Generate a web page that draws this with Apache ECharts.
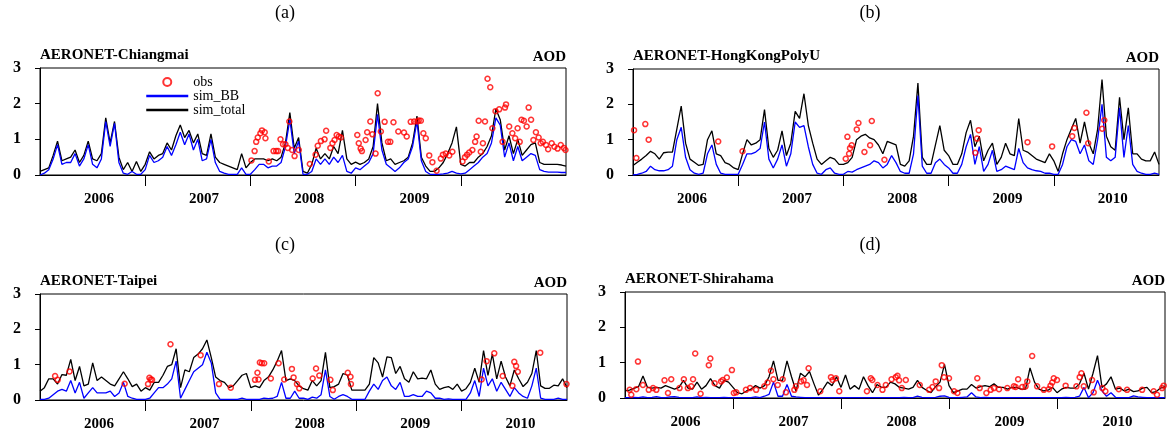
<!DOCTYPE html>
<html>
<head>
<meta charset="utf-8">
<script src="https://cdn.jsdelivr.net/npm/echarts@6/dist/echarts.min.js"></script>
<style>
  html, body { margin: 0; padding: 0; background: #fff; }
  #main { width: 1170px; height: 436px; }
</style>
</head>
<body>
<div id="main"></div>
<script>
// model output every half month, 2006-01 .. 2011-01 (121 values each)
var START_YEAR = 2006;
var STEPS_PER_YEAR = 24;

var yearLabels = [2006, 2007, 2008, 2009, 2010];
var yearTicks = [2007, 2008, 2009, 2010];

// (a) Chiangmai
var chiangmaiTotal = [
  0.1, 0.15, 0.2, 0.55, 0.95, 0.4, 0.45, 0.5, 0.7, 0.35, 0.55, 0.95, 0.45, 0.4, 0.6, 1.6, 0.9, 1.5, 0.5, 0.15, 0.35, 0.1, 0.38, 0.1,
  0.3, 0.65, 0.45, 0.55, 0.6, 0.9, 0.7, 1.1, 1.4, 1.05, 1.25, 0.9, 1.15, 0.6, 0.55, 1.15, 0.5, 0.35, 0.3, 0.25, 0.2, 0.15, 0.6, 0.2,
  0.35, 0.45, 0.45, 0.45, 0.4, 0.45, 0.4, 0.5, 0.9, 1.75, 0.75, 1.05, 0.1, 0.05, 0.3, 0.75, 0.45, 0.6, 0.45, 0.8, 0.6, 1.25, 0.45, 0.3,
  0.36, 0.3, 0.35, 0.45, 0.8, 2.0, 0.9, 0.4, 0.45, 0.3, 0.35, 0.4, 0.5, 0.9, 1.65, 0.5, 0.25, 0.1, 0.1, 0.2, 0.35, 0.6, 0.9, 1.35,
  0.3, 0.25, 0.35, 0.35, 0.5, 0.6, 0.8, 1.1, 1.85, 1.55, 0.7, 1.1, 0.6, 1.0, 0.55, 0.7, 0.85, 0.9, 0.35, 0.3, 0.3, 0.3, 0.3, 0.28, 0.25
];
var chiangmaiBB = [
  0.0, 0.05, 0.15, 0.45, 0.85, 0.3, 0.35, 0.35, 0.6, 0.25, 0.45, 0.85, 0.3, 0.2, 0.45, 1.5, 0.8, 1.45, 0.35, 0.05, 0.02, 0.1, 0.02, 0.02,
  0.15, 0.55, 0.35, 0.4, 0.5, 0.8, 0.55, 0.85, 1.2, 0.85, 1.15, 0.7, 1.0, 0.4, 0.45, 1.0, 0.35, 0.1, 0.05, 0.02, 0.02, 0.02, 0.2, 0.02,
  0.02, 0.15, 0.3, 0.3, 0.2, 0.25, 0.25, 0.35, 0.8, 1.55, 0.6, 0.95, 0.02, 0.02, 0.1, 0.45, 0.3, 0.45, 0.3, 0.5, 0.35, 0.55, 0.1, 0.05,
  0.2, 0.15, 0.25, 0.35, 0.6, 1.7, 0.7, 0.3, 0.2, 0.1, 0.2, 0.35, 0.45, 0.8, 1.5, 0.4, 0.1, 0.02, 0.02, 0.02, 0.03, 0.05, 0.1, 0.05,
  0.03, 0.05, 0.15, 0.25, 0.35, 0.5, 0.6, 0.9, 1.6, 1.4, 0.5, 0.9, 0.4, 0.8, 0.4, 0.5, 0.6, 0.55, 0.15, 0.1, 0.08, 0.08, 0.08, 0.07, 0.07
];
var chiangmaiObs = [
  [2008.01, 0.41], [2008.04, 0.67], [2008.055, 0.93], [2008.07, 1.05], [2008.095, 1.17], [2008.11, 1.25], [2008.136, 1.2], [2008.143, 1.03],
  [2008.175, 0.38], [2008.22, 0.67], [2008.245, 0.67], [2008.263, 0.67], [2008.286, 1.0], [2008.31, 0.86], [2008.333, 0.86], [2008.355, 0.76],
  [2008.37, 1.5], [2008.397, 0.7], [2008.42, 0.53], [2008.46, 0.7], [2008.565, 0.31], [2008.62, 0.57], [2008.64, 0.82], [2008.67, 0.95],
  [2008.705, 1.0], [2008.72, 1.24], [2008.76, 0.76], [2008.78, 0.89], [2008.8, 0.98], [2008.82, 1.12], [2008.84, 1.08], [2008.86, 1.05],
  [2009.016, 1.12], [2009.03, 0.89], [2009.048, 0.74], [2009.06, 0.67], [2009.095, 0.98], [2009.11, 1.2], [2009.14, 1.5], [2009.16, 1.14],
  [2009.19, 0.6], [2009.21, 2.29], [2009.24, 1.22], [2009.276, 1.49], [2009.308, 0.93], [2009.33, 0.93], [2009.36, 1.48], [2009.406, 1.22],
  [2009.46, 1.19], [2009.486, 1.08], [2009.524, 1.49], [2009.556, 1.5], [2009.587, 1.5], [2009.6, 1.53], [2009.62, 1.52], [2009.644, 1.17],
  [2009.667, 1.03], [2009.7, 0.55], [2009.73, 0.36], [2009.77, 0.12], [2009.81, 0.46], [2009.83, 0.57], [2009.857, 0.6], [2009.89, 0.55],
  [2009.92, 0.65], [2010.016, 0.38], [2010.04, 0.5], [2010.06, 0.57], [2010.08, 0.63], [2010.11, 0.7], [2010.136, 0.93], [2010.15, 1.08],
  [2010.17, 1.52], [2010.19, 0.65], [2010.21, 0.89], [2010.23, 1.5], [2010.254, 2.7], [2010.28, 2.46], [2010.3, 1.31], [2010.33, 1.79],
  [2010.365, 1.84], [2010.397, 0.93], [2010.42, 1.89], [2010.43, 1.98], [2010.46, 1.36], [2010.49, 1.17], [2010.517, 1.03], [2010.54, 1.31],
  [2010.56, 0.93], [2010.577, 1.55], [2010.6, 1.52], [2010.626, 1.36], [2010.645, 1.89], [2010.668, 1.55], [2010.69, 0.98], [2010.714, 1.2],
  [2010.74, 1.05], [2010.76, 0.89], [2010.78, 0.93], [2010.81, 0.84], [2010.83, 0.72], [2010.864, 0.89], [2010.89, 0.79], [2010.92, 0.74],
  [2010.95, 0.84], [2010.98, 0.76], [2010.995, 0.7]
];

// (b) HongKongPolyU
var hongkongTotal = [
  0.27, 0.36, 0.45, 0.55, 0.67, 0.6, 0.45, 0.63, 0.65, 0.65, 1.3, 1.95, 0.9, 0.45, 0.36, 0.27, 0.3, 1.0, 1.25, 0.6, 0.55, 0.35, 0.3, 0.2,
  0.15, 0.6, 1.0, 0.85, 0.9, 1.0, 1.85, 0.75, 0.5, 0.7, 1.25, 0.55, 0.9, 1.8, 1.6, 2.3, 1.4, 0.9, 0.45, 0.3, 0.4, 0.5, 0.45, 0.3,
  0.3, 0.35, 0.5, 1.0, 1.1, 1.15, 1.05, 1.0, 0.85, 0.6, 0.95, 0.9, 0.85, 0.3, 0.25, 0.4, 1.1, 2.6, 0.5, 0.3, 0.3, 0.85, 1.4, 0.7,
  0.55, 0.3, 0.3, 0.6, 1.2, 1.55, 0.8, 1.1, 0.4, 0.7, 0.9, 0.3, 0.5, 0.9, 0.6, 0.55, 1.6, 0.7, 0.65, 0.55, 0.45, 0.4, 0.35, 0.6,
  0.4, 0.1, 0.6, 1.0, 1.3, 1.6, 0.9, 1.5, 0.9, 0.6, 1.3, 2.7, 1.1, 0.8, 0.7, 2.2, 1.0, 1.9, 0.6, 0.6, 0.45, 0.4, 0.4, 0.65, 0.3
];
var hongkongBB = [
  0.0, 0.02, 0.05, 0.1, 0.25, 0.15, 0.12, 0.12, 0.15, 0.25, 1.0, 1.35, 0.5, 0.15, 0.05, 0.02, 0.05, 0.6, 0.85, 0.3, 0.05, 0.02, 0.02, 0.02,
  0.02, 0.3, 0.6, 0.6, 0.65, 0.75, 1.5, 0.45, 0.2, 0.45, 0.85, 0.25, 0.6, 1.5, 1.35, 1.4, 0.8, 0.3, 0.05, 0.02, 0.15, 0.2, 0.05, 0.02,
  0.02, 0.1, 0.08, 0.15, 0.2, 0.25, 0.3, 0.4, 0.35, 0.2, 0.3, 0.55, 0.35, 0.1, 0.05, 0.05, 0.6, 2.25, 0.25, 0.05, 0.05, 0.35, 0.45, 0.3,
  0.2, 0.05, 0.05, 0.3, 0.8, 1.15, 0.3, 0.8, 0.1, 0.3, 0.7, 0.1, 0.15, 0.25, 0.2, 0.15, 0.75, 0.35, 0.2, 0.15, 0.12, 0.1, 0.05, 0.05,
  0.02, 0.02, 0.3, 0.8, 1.0, 0.95, 0.6, 0.85, 0.4, 0.3, 1.0, 2.0, 0.5, 0.4, 0.5, 1.9, 0.5, 1.4, 0.3, 0.1, 0.05, 0.02, 0.02, 0.05, 0.02
];
var hongkongObs = [
  [2006.01, 1.27], [2006.032, 0.48], [2006.117, 1.44], [2006.149, 1.0], [2006.81, 0.95], [2007.041, 0.67], [2008.022, 0.46],
  [2008.038, 1.08], [2008.054, 0.6], [2008.063, 0.76], [2008.079, 0.84], [2008.127, 1.29], [2008.143, 1.47], [2008.2, 0.65],
  [2008.254, 0.84], [2008.27, 1.53], [2008.39, 0.43], [2009.254, 0.63], [2009.27, 1.03], [2009.286, 1.27], [2009.75, 0.93],
  [2009.984, 0.81], [2010.175, 1.1], [2010.196, 1.33], [2010.31, 1.76], [2010.327, 0.9], [2010.46, 1.31], [2010.48, 1.55]
];

// (c) Taipei
var taipeiTotal = [
  0.25, 0.35, 0.6, 0.6, 0.45, 0.72, 0.7, 1.15, 0.55, 0.95, 0.4, 0.45, 1.05, 0.55, 0.65, 0.55, 0.45, 0.4, 0.6, 0.8, 0.6, 0.38, 0.45, 0.25,
  0.35, 0.28, 0.5, 0.5, 0.7, 0.95, 1.0, 1.45, 0.35, 0.85, 0.8, 1.2, 1.3, 1.45, 1.7, 1.2, 0.65, 0.55, 0.5, 0.35, 0.4, 0.55, 0.7, 0.75,
  0.35, 0.4, 0.35, 0.55, 0.65, 0.85, 1.1, 1.4, 0.55, 0.6, 0.55, 0.4, 0.32, 0.28, 0.55, 0.4, 0.55, 1.35, 0.35, 0.38, 0.45, 0.75, 0.7, 0.28,
  0.28, 0.28, 0.28, 0.45, 1.2, 1.05, 0.65, 1.22, 1.2, 0.75, 0.95, 0.6, 0.5, 0.8, 0.6, 0.62, 0.6, 0.85, 0.45, 0.3, 0.35, 0.38, 0.3, 0.45,
  0.25, 0.32, 0.5, 0.9, 0.5, 1.4, 0.7, 1.3, 0.6, 1.1, 0.65, 0.4, 0.85, 0.6, 0.38, 0.5, 0.75, 1.4, 0.4, 0.33, 0.33, 0.42, 0.4, 0.6, 0.35
];
var taipeiBB = [
  0.02, 0.02, 0.05, 0.15, 0.25, 0.3, 0.25, 0.55, 0.2, 0.5, 0.05, 0.2, 0.35, 0.2, 0.2, 0.2, 0.25, 0.1, 0.2, 0.5, 0.1, 0.05, 0.02, 0.02,
  0.02, 0.05, 0.2, 0.35, 0.35, 0.45, 0.6, 1.1, 0.05, 0.3, 0.55, 0.8, 0.9, 1.0, 1.35, 1.05, 0.2, 0.02, 0.02, 0.02, 0.02, 0.02, 0.05, 0.02,
  0.02, 0.02, 0.02, 0.05, 0.04, 0.05, 0.1, 0.5, 0.05, 0.05, 0.25, 0.05, 0.05, 0.02, 0.08, 0.05, 0.15, 0.85, 0.1, 0.02, 0.1, 0.15, 0.1, 0.02,
  0.02, 0.02, 0.02, 0.25, 0.45, 0.3, 0.55, 0.65, 0.4, 0.3, 0.5, 0.1, 0.1, 0.15, 0.1, 0.1, 0.25, 0.2, 0.05, 0.05, 0.02, 0.03, 0.02, 0.02,
  0.02, 0.02, 0.2, 0.55, 0.1, 0.9, 0.4, 0.6, 0.25, 0.5, 0.3, 0.1, 0.35, 0.2, 0.1, 0.05, 0.4, 0.9, 0.05, 0.02, 0.02, 0.02, 0.05, 0.02, 0.02
];
var taipeiObs = [
  [2006.143, 0.68], [2006.168, 0.57], [2006.28, 0.81], [2006.803, 0.46], [2007.025, 0.45], [2007.038, 0.63], [2007.05, 0.58],
  [2007.063, 0.57], [2007.238, 1.58], [2007.524, 1.27], [2007.698, 0.45], [2007.81, 0.35], [2008.04, 0.57], [2008.063, 0.77],
  [2008.073, 0.58], [2008.086, 1.06], [2008.105, 1.04], [2008.127, 1.04], [2008.19, 0.61], [2008.264, 1.04], [2008.317, 0.58],
  [2008.39, 0.88], [2008.406, 0.64], [2008.438, 0.45], [2008.46, 0.33], [2008.587, 0.61], [2008.619, 0.89], [2008.65, 0.69],
  [2008.755, 0.57], [2008.778, 0.28], [2008.92, 0.77], [2008.946, 0.66], [2008.95, 0.45], [2010.19, 0.58], [2010.238, 1.1],
  [2010.31, 1.32], [2010.39, 0.68], [2010.482, 0.4], [2010.5, 1.08], [2010.517, 0.96], [2010.533, 0.8], [2010.746, 1.34], [2010.995, 0.45]
];

// (d) Shirahama
var shirahamaTotal = [
  0.2, 0.22, 0.27, 0.32, 0.62, 0.3, 0.28, 0.3, 0.28, 0.35, 0.3, 0.25, 0.3, 0.5, 0.28, 0.25, 0.45, 0.25, 0.35, 0.55, 0.35, 0.28, 0.5, 0.45,
  0.3, 0.15, 0.12, 0.2, 0.25, 0.35, 0.28, 0.35, 0.6, 1.05, 0.5, 0.5, 1.05, 0.6, 0.2, 0.7, 0.6, 0.75, 0.4, 0.08, 0.25, 0.45, 0.35, 0.6,
  0.3, 0.65, 0.25, 0.35, 0.25, 0.6, 0.35, 0.15, 0.38, 0.3, 0.3, 0.45, 0.4, 0.3, 0.28, 0.25, 0.3, 0.5, 0.3, 0.22, 0.15, 0.32, 0.45, 0.95,
  0.35, 0.15, 0.2, 0.25, 0.25, 0.38, 0.28, 0.32, 0.35, 0.32, 0.4, 0.3, 0.3, 0.25, 0.3, 0.3, 0.25, 0.25, 0.85, 0.45, 0.25, 0.2, 0.22, 0.3,
  0.15, 0.25, 0.3, 0.28, 0.28, 0.4, 0.7, 0.25, 0.7, 1.2, 0.3, 0.4, 0.6, 0.25, 0.28, 0.2, 0.25, 0.18, 0.2, 0.28, 0.3, 0.15, 0.18, 0.28, 0.32
];
var shirahamaBB = [
  0.01, 0.01, 0.02, 0.01, 0.03, 0.01, 0.02, 0.04, 0.01, 0.01, 0.03, 0.04, 0.02, 0.01, 0.01, 0.01, 0.03, 0.01, 0.02, 0.01, 0.01, 0.01, 0.02, 0.01,
  0.01, 0.01, 0.01, 0.01, 0.01, 0.03, 0.01, 0.05, 0.1, 0.45, 0.05, 0.05, 0.38, 0.05, 0.03, 0.02, 0.01, 0.01, 0.01, 0.01, 0.01, 0.01, 0.01, 0.01,
  0.01, 0.01, 0.01, 0.01, 0.01, 0.01, 0.01, 0.01, 0.01, 0.01, 0.01, 0.01, 0.01, 0.01, 0.02, 0.01, 0.01, 0.05, 0.02, 0.01, 0.01, 0.02, 0.05, 0.06,
  0.02, 0.01, 0.01, 0.02, 0.03, 0.15, 0.03, 0.01, 0.02, 0.01, 0.01, 0.01, 0.01, 0.01, 0.01, 0.01, 0.01, 0.01, 0.01, 0.01, 0.01, 0.01, 0.01, 0.01,
  0.01, 0.01, 0.02, 0.01, 0.02, 0.05, 0.3, 0.01, 0.15, 0.5, 0.2, 0.05, 0.15, 0.02, 0.01, 0.01, 0.01, 0.06, 0.03, 0.02, 0.01, 0.01, 0.01, 0.01, 0.01
];
var shirahamaObs = [
  [2006.043, 0.23], [2006.058, 0.09], [2006.105, 0.25], [2006.12, 1.03], [2006.166, 0.37], [2006.22, 0.23], [2006.26, 0.28], [2006.29, 0.23],
  [2006.366, 0.5], [2006.398, 0.14], [2006.428, 0.53], [2006.505, 0.28], [2006.545, 0.53], [2006.582, 0.28], [2006.613, 0.33], [2006.63, 0.53],
  [2006.65, 1.26], [2006.70, 0.12], [2006.776, 0.93], [2006.79, 1.12], [2006.83, 0.42], [2006.89, 0.47], [2006.905, 0.51], [2006.943, 0.58],
  [2006.99, 0.79], [2007.008, 0.14], [2007.03, 0.16], [2007.12, 0.23], [2007.158, 0.28], [2007.214, 0.23], [2007.29, 0.33], [2007.32, 0.44],
  [2007.352, 0.77], [2007.374, 0.53], [2007.414, 0.37], [2007.46, 0.53], [2007.49, 0.16], [2007.568, 0.23], [2007.583, 0.33], [2007.63, 0.47],
  [2007.654, 0.5], [2007.685, 0.37], [2007.7, 0.84], [2007.808, 0.19], [2007.907, 0.59], [2007.922, 0.51], [2007.953, 0.56], [2007.984, 0.19],
  [2008.24, 0.19], [2008.276, 0.56], [2008.29, 0.51], [2008.338, 0.37], [2008.384, 0.23], [2008.415, 0.37], [2008.468, 0.53], [2008.507, 0.59],
  [2008.523, 0.63], [2008.538, 0.5], [2008.563, 0.28], [2008.6, 0.51], [2008.729, 0.37], [2008.816, 0.23], [2008.847, 0.31], [2008.877, 0.47],
  [2008.908, 0.28], [2008.933, 0.93], [2008.954, 0.59], [2009.0, 0.56], [2009.047, 0.19], [2009.078, 0.14], [2009.262, 0.56], [2009.284, 0.28],
  [2009.346, 0.14], [2009.386, 0.23], [2009.416, 0.28], [2009.463, 0.25], [2009.54, 0.28], [2009.601, 0.33], [2009.617, 0.31], [2009.64, 0.53],
  [2009.678, 0.31], [2009.709, 0.33], [2009.725, 0.47], [2009.77, 1.19], [2009.816, 0.33], [2009.878, 0.23], [2009.925, 0.25], [2009.94, 0.35],
  [2009.956, 0.44], [2009.97, 0.56], [2010.0, 0.51], [2010.08, 0.35], [2010.18, 0.33], [2010.21, 0.59], [2010.226, 0.7], [2010.248, 0.33],
  [2010.325, 0.51], [2010.34, 0.16], [2010.42, 0.28], [2010.448, 0.19], [2010.572, 0.25], [2010.649, 0.23], [2010.788, 0.23], [2010.895, 0.19],
  [2010.926, 0.09], [2010.973, 0.28], [2010.988, 0.35]
];

var panels = [
  { tag: '(a)', name: 'AERONET-Chiangmai', total: chiangmaiTotal, bb: chiangmaiBB, obs: chiangmaiObs,
    grid: { left: 40, right: 604, top: 68, bottom: 261 } },
  { tag: '(b)', name: 'AERONET-HongKongPolyU', total: hongkongTotal, bb: hongkongBB, obs: hongkongObs,
    grid: { left: 633, right: 11, top: 69, bottom: 261 } },
  { tag: '(c)', name: 'AERONET-Taipei', total: taipeiTotal, bb: taipeiBB, obs: taipeiObs,
    grid: { left: 40, right: 603, top: 294, bottom: 36 } },
  { tag: '(d)', name: 'AERONET-Shirahama', total: shirahamaTotal, bb: shirahamaBB, obs: shirahamaObs,
    grid: { left: 625, right: 5, top: 292, bottom: 38 } }
];

var FONT = '"Liberation Serif", "Times New Roman", serif';

function toPairs(values) {
  return values.map(function (v, i) {
    return [START_YEAR + i / STEPS_PER_YEAR, v];
  });
}

var grids = [], xAxes = [], yAxes = [], series = [], graphics = [];

panels.forEach(function (p, k) {
  var g = p.grid;
  grids.push({
    left: g.left, right: g.right, top: g.top, bottom: g.bottom,
    show: true, borderColor: '#000', borderWidth: 1, backgroundColor: 'transparent'
  });
  xAxes.push({
    gridIndex: k, type: 'value', min: 2006, max: 2011,
    axisLine: { lineStyle: { color: '#000', width: 1 } },
    axisTick: { show: true, customValues: yearTicks, length: 11, lineStyle: { color: '#000' } },
    axisLabel: {
      // labels sit a little right of mid-year in the original
      customValues: yearLabels.map(function (y) { return y + 0.56; }),
      formatter: function (v) { return String(Math.floor(v)); },
      fontFamily: FONT, fontWeight: 'bold', fontSize: 15, color: '#000', margin: 17
    },
    splitLine: { show: false }
  });
  yAxes.push({
    gridIndex: k, type: 'value', min: 0, max: 3, interval: 1,
    axisLine: { show: true, lineStyle: { color: '#000', width: 1 } },
    axisTick: { show: true, length: 5, lineStyle: { color: '#000' } },
    axisLabel: { fontFamily: FONT, fontWeight: 'bold', fontSize: 16, color: '#000', margin: 19 },
    splitLine: { show: false }
  });

  series.push({
    name: 'sim_total', type: 'line', xAxisIndex: k, yAxisIndex: k,
    data: toPairs(p.total), symbol: 'none', z: 2,
    lineStyle: { color: '#000', width: 1.3 }, itemStyle: { color: '#000' }
  });
  series.push({
    name: 'sim_BB', type: 'line', xAxisIndex: k, yAxisIndex: k,
    data: toPairs(p.bb), symbol: 'none', z: 3,
    lineStyle: { color: '#0000ff', width: 1.3 }, itemStyle: { color: '#0000ff' }
  });
  series.push({
    name: 'obs', type: 'scatter', xAxisIndex: k, yAxisIndex: k,
    data: p.obs, symbol: 'circle', symbolSize: 5, z: 4,
    itemStyle: { color: 'rgba(255,255,255,0)', borderColor: '#ff0000', borderWidth: 1.5 }
  });

  var rightX = 1170 - g.right;
  graphics.push({
    type: 'text', x: k % 2 === 0 ? 285 : 870, y: k < 2 ? 13 : 245,
    style: { text: p.tag, font: '18px ' + FONT, fill: '#000',
      align: 'center', verticalAlign: 'middle', textAlign: 'center', textVerticalAlign: 'middle' }
  });
  graphics.push({
    type: 'text', x: g.left, y: g.top - 13,
    style: { text: p.name, font: 'bold 15px ' + FONT, fill: '#000',
      align: 'left', verticalAlign: 'middle', textAlign: 'left', textVerticalAlign: 'middle' }
  });
  graphics.push({
    type: 'text', x: rightX, y: g.top - 11,
    style: { text: 'AOD', font: 'bold 15px ' + FONT, fill: '#000',
      align: 'right', verticalAlign: 'middle', textAlign: 'right', textVerticalAlign: 'middle' }
  });
});

var chart = echarts.init(document.getElementById('main'), null, { renderer: 'canvas' });
chart.setOption({
  animation: false,
  backgroundColor: '#fff',
  grid: grids,
  xAxis: xAxes,
  yAxis: yAxes,
  legend: {
    data: [
      { name: 'obs', icon: 'circle' },
      { name: 'sim_BB', itemStyle: { opacity: 0 } },
      { name: 'sim_total', itemStyle: { opacity: 0 } }
    ],
    orient: 'vertical', left: 140, top: 70,
    itemWidth: 42, itemHeight: 8, itemGap: 0,
    selectedMode: false,
    lineStyle: { width: 2.5 },
    textStyle: { fontFamily: FONT, fontSize: 14, color: '#000', lineHeight: 13 }
  },
  graphic: graphics,
  series: series
});
</script>
</body>
</html>
